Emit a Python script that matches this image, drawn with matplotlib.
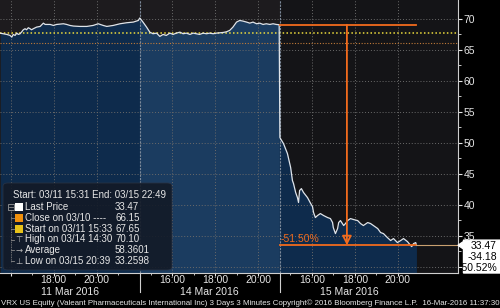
import matplotlib
matplotlib.use("Agg")
import numpy as np
import matplotlib.pyplot as plt
from matplotlib.patches import FancyBboxPatch, Polygon, Rectangle
from matplotlib.transforms import blended_transform_factory

# ============================
# data
# ============================
DAY_LABELS = ["11 Mar 2016", "14 Mar 2016", "15 Mar 2016"]
DAY_OPEN = ["15:30", "14:30", "14:30"]
SESSION_MIN = 390
TICK_TIMES = ["16:00", "18:00", "20:00"]

day1_time = ["15:31", "15:39", "15:49", "15:58", "16:03", "16:07", "16:12", "16:17", "16:21", "16:26",
             "16:30", "16:35", "16:40", "16:44", "16:49", "16:54", "16:58", "17:03", "17:12", "17:22",
             "17:31", "17:36", "17:50", "17:59", "18:08", "18:27", "18:36", "18:45", "18:55", "19:13",
             "19:32", "19:50", "20:04", "20:18", "20:28", "20:46", "21:05", "21:23", "21:42", "21:56"]
day1_price = [67.65, 67.56, 67.45, 67.29, 67.02, 67.45, 67.29, 67.66, 67.45, 67.56,
              67.82, 68.20, 68.37, 68.20, 68.53, 68.37, 68.20, 68.37, 68.63, 68.74,
              69.27, 69.06, 69.06, 68.90, 69.06, 69.17, 69.06, 68.90, 68.80, 68.74,
              68.74, 68.90, 69.17, 68.90, 68.74, 68.90, 69.17, 69.33, 69.44, 69.70]

day2_time = ["14:30", "14:39", "14:49", "14:58", "15:07", "15:17", "15:26", "15:35", "15:44", "15:54",
             "16:03", "16:12", "16:22", "16:31", "16:40", "16:50", "16:59", "17:08", "17:17", "17:27",
             "17:36", "17:45", "17:55", "18:04", "18:13", "18:23", "18:32", "18:41", "18:50", "19:00",
             "19:09", "19:18", "19:28", "19:37", "19:46", "19:56", "20:05", "20:14", "20:23", "20:33",
             "20:42", "20:51", "20:59"]
day2_price = [70.10, 69.44, 68.63, 67.82, 67.56, 67.66, 67.13, 67.45, 67.29, 67.66,
              67.45, 67.66, 67.82, 67.56, 67.66, 67.45, 67.66, 67.56, 67.45, 67.66,
              67.56, 67.66, 67.56, 67.66, 67.72, 67.77, 67.88, 68.10, 68.63, 69.44,
              69.70, 69.60, 69.44, 69.27, 69.44, 69.17, 69.27, 69.06, 69.17, 69.06,
              69.17, 69.06, 69.01]

day3_time = ["14:31", "14:33", "14:41", "14:52", "15:01", "15:06", "15:09", "15:15", "15:20", "15:23",
             "15:26", "15:31", "15:37", "15:48", "15:57", "16:02", "16:05", "16:10", "16:16", "16:24",
             "16:33", "16:44", "16:52", "16:58", "17:00", "17:06", "17:12", "17:15", "17:20", "17:29",
             "17:34", "17:40", "17:48", "17:57", "18:08", "18:16", "18:24", "18:36", "18:44", "18:52",
             "19:04", "19:12", "19:20", "19:31", "19:40", "19:48", "19:59", "20:08", "20:16", "20:27",
             "20:36", "20:39", "20:44", "20:50", "20:52"]
day3_price = [50.84, 50.63, 49.87, 48.26, 46.00, 43.90, 43.42, 41.97, 41.16, 40.36,
              42.29, 42.60, 41.97, 41.16, 40.19, 39.70, 38.74, 37.94, 38.26, 38.58,
              38.26, 37.94, 37.77, 37.13, 36.32, 35.35, 36.16, 37.13, 37.45, 36.65,
              36.97, 37.45, 37.77, 37.61, 37.45, 36.97, 36.65, 37.13, 36.97, 36.65,
              36.16, 35.52, 35.35, 34.71, 34.23, 34.55, 33.90, 34.23, 34.55, 34.06,
              33.42, 33.26, 33.74, 33.90, 33.47]

PREV_CLOSE = 66.15
START_PRICE = 67.65
DD_TOP = 69.01
DD_TIME = "17:38"
LAST_PRICE = 33.47
BOX_VALUES = ["33.47", "-34.18", "-50.52%"]

LEGEND_HEAD = "Start: 03/11 15:31 End: 03/15 22:49"
LEGEND_NAMES = ["Last Price", "Close on 03/10 ----", "Start on 03/11 15:33",
                "High on 03/14 14:30", "Average", "Low on 03/15 20:39"]
LEGEND_VALUES = ["33.47", "66.15", "67.65", "70.10", "58.3601", "33.2598"]
FOOTER = ("VRX US Equity (Valeant Pharmaceuticals International Inc) 3 Days 3 Minutes "
          "Copyright\u00a9 2016 Bloomberg Finance L.P.  16-Mar-2016 11:37:30")

# ============================
# helpers
# ============================
def to_min(hhmm):
    h, m = hhmm.split(":")
    return int(h) * 60 + int(m)

def to_x(day, hhmm):
    return day * SESSION_MIN + to_min(hhmm) - to_min(DAY_OPEN[day])

plt.rcParams['font.family'] = ['Liberation Sans', 'DejaVu Sans']

W, H = 500, 308
AX_BOTTOM = 273
def fx(px):
    return px / W
def fy(py):
    return 1 - py / H
def ay(py):
    # figure pixel row -> axes fraction
    return (AX_BOTTOM - py) / AX_BOTTOM

BG = "#141417"
BG_OLD = "#1d1b1e"
FILL = "#0e2b4c"
FILL_MID = "#1b3c60"
ORANGE = "#f26b1d"
TXT = "#e6e6e6"
FS = 7

xs = np.array([to_x(0, t) for t in day1_time] + [to_x(1, t) for t in day2_time] + [to_x(2, t) for t in day3_time], float)
ys = np.array(day1_price + day2_price + day3_price)

fig = plt.figure(figsize=(5.0, 3.08), dpi=100, facecolor="black")
ax = fig.add_axes([0, fy(AX_BOTTOM), fx(458), AX_BOTTOM / H])
ax.set_facecolor(BG)
ymin, ymax = 29.0, 73.0
ax.set_xlim(0, 1278)
ax.set_ylim(ymin, ymax)

ax.axvspan(0, 2 * SESSION_MIN, color=BG_OLD, zorder=0, lw=0)
ax.fill_between(xs, ymin, ys, color=FILL, lw=0, zorder=1)
mid = (xs >= SESSION_MIN) & (xs < 2 * SESSION_MIN)
ax.fill_between(xs[mid], ymin, ys[mid], color=FILL_MID, lw=0, zorder=1)
ax.plot(xs, ys, color="#dfe4ea", lw=0.9, zorder=4)

# grid
ax.set_axisbelow("line")
ax.grid(True, color="#6a6a6a", ls=(0, (1, 2)), lw=0.7)
for d in (1, 2):
    ax.axvline(d * SESSION_MIN, color="#7d8a9a", lw=0.8, ls=(0, (2, 1)), zorder=2)

# reference lines
ax.axhline(START_PRICE, color="#ecdb3c", lw=1.1, ls=(0, (1, 1.5)), zorder=3)
ax.axhline(PREV_CLOSE, color="#c07a38", lw=0.8, ls=(0, (1, 1.5)), zorder=3)

# drawdown annotation
x0 = to_x(2, DAY_OPEN[2])
x_last = xs[-1]
x_dd = to_x(2, DD_TIME)
ax.plot([x0, x_last], [DD_TOP, DD_TOP], color=ORANGE, lw=1.3, zorder=5)
ax.plot([x0, x_last], [LAST_PRICE, LAST_PRICE], color=ORANGE, lw=1.3, zorder=5)
ax.plot([x_last, 1278], [LAST_PRICE, LAST_PRICE], color="#c9a070", lw=0.8, zorder=5)
ax.annotate("", xy=(x_dd, LAST_PRICE), xytext=(x_dd, DD_TOP), zorder=5,
            arrowprops=dict(arrowstyle="-|>,head_length=0.55,head_width=0.28",
                            ec=ORANGE, fc="none", lw=1.3, shrinkA=0, shrinkB=0))
pct = (LAST_PRICE / DD_TOP - 1) * 100
ax.text(x0 + 4, LAST_PRICE + 0.2, f"{pct:.2f}%", color=ORANGE,
        fontsize=FS + 0.5, ha="left", va="bottom", zorder=6)

# axes styling
for s in ("top", "left"):
    ax.spines[s].set_visible(False)
for s in ("right", "bottom"):
    ax.spines[s].set_color("#cfcfcf")
    ax.spines[s].set_linewidth(0.8)

ax.yaxis.tick_right()
yt = np.arange(30, 71, 5)
ax.set_yticks(yt)
ax.set_yticklabels(["" if v == 30 else str(v) for v in yt])
ax.set_yticks(np.arange(30, 71, 2.5), minor=True)
ax.tick_params(axis="y", which="major", colors=TXT, labelsize=FS + 0.5, length=3, width=0.8, pad=1)
ax.tick_params(axis="y", which="minor", colors=TXT, length=2, width=0.6)

xt, xl = [], []
for d in range(3):
    for t in TICK_TIMES:
        xt.append(to_x(d, t))
        xl.append("" if (d == 0 and t == "16:00") else t)
ax.set_xticks(xt)
ax.set_xticklabels(xl)
ax.set_xticks([to_x(d, f"{h}:00") for d in range(3) for h in range(15, 23)
               if 0 < to_x(d, f"{h}:00") - d * SESSION_MIN < SESSION_MIN], minor=True)
ax.tick_params(axis="x", which="major", colors=TXT, labelsize=FS + 0.5, length=2, width=0.8, pad=-0.5)
ax.tick_params(axis="x", which="minor", colors=TXT, length=1.5, width=0.6)

xtr = ax.get_xaxis_transform()
for d in range(3):
    xm = d * SESSION_MIN + SESSION_MIN / 2
    ax.text(xm, ay(292), DAY_LABELS[d], transform=xtr, color=TXT, fontsize=FS + 0.5,
            ha="center", va="center", clip_on=False)
for d in (1, 2):
    ax.plot([d * SESSION_MIN] * 2, [0, ay(292)], transform=xtr, color="#d0d0d0",
            lw=0.8, clip_on=False)

# right value box
tb = blended_transform_factory(ax.transAxes, ax.transData)
xr = 500 / 458
poly = Polygon([(1.0, LAST_PRICE), (1.012, LAST_PRICE + 0.6), (1.012, 34.3), (xr, 34.3),
                (xr, 29.0), (1.012, 29.0), (1.012, LAST_PRICE - 0.6)],
               closed=True, transform=tb, fc="white", ec="white", clip_on=False, zorder=6)
ax.add_patch(poly)
for i, v in enumerate(BOX_VALUES):
    fig.text(fx(497), fy(246 + i * 10.8), v, color="black", fontsize=FS + 0.5, ha="right", va="center")

# legend box
lg = FancyBboxPatch((fx(3), fy(270)), fx(169), 87 / H, boxstyle="round,pad=0,rounding_size=0.01",
                    transform=fig.transFigure, fc="#131a27", ec="#2a3344", lw=0.6, alpha=0.9, zorder=10)
fig.patches.append(lg)
fig.text(fx(13), fy(195), LEGEND_HEAD, color=TXT, fontsize=FS, va="center", ha="left", zorder=12)
row_y = [207, 218, 229, 239.5, 250, 261]
sq_cols = ["white", "#f0900c", "#e6c21a"]
for i, (n, v) in enumerate(zip(LEGEND_NAMES, LEGEND_VALUES)):
    y = row_y[i]
    fig.text(fx(25), fy(y), n, color=TXT, fontsize=FS, va="center", ha="left", zorder=12)
    fig.text(fx(115), fy(y), v, color=TXT, fontsize=FS, va="center", ha="left", zorder=12)
    if i < 3:
        fig.patches.append(Rectangle((fx(14.5), fy(y + 4)), fx(8), 8 / H, transform=fig.transFigure,
                                     fc=sq_cols[i], ec="none", zorder=11))
sym = ["\u22a4", "\u2192", "\u22a5"]
for i, s in enumerate(sym):
    fig.text(fx(19), fy(row_y[3 + i]), s, color="#b8b8b8", fontsize=6, va="center", ha="center",
             family=["DejaVu Sans"], zorder=12)
# tree lines
tree = dict(transform=fig.transFigure, color="#8a8a8a", lw=0.6, zorder=11)
fig.lines.append(plt.Line2D([fx(11), fx(11)], [fy(210), fy(262)], ls=(0, (1, 1)), **tree))
for y in row_y[1:]:
    fig.lines.append(plt.Line2D([fx(11), fx(14)], [fy(y), fy(y)], **tree))
fig.patches.append(Rectangle((fx(8), fy(210)), fx(6), 6 / H, transform=fig.transFigure,
                             fc="none", ec="#9a9a9a", lw=0.6, zorder=11))
fig.lines.append(plt.Line2D([fx(9.3), fx(12.7)], [fy(207), fy(207)], **tree))

fig.text(fx(1), fy(303), FOOTER, color=TXT, fontsize=5.7, ha="left", va="center")

fig.savefig("out.png", dpi=100, facecolor="black")
